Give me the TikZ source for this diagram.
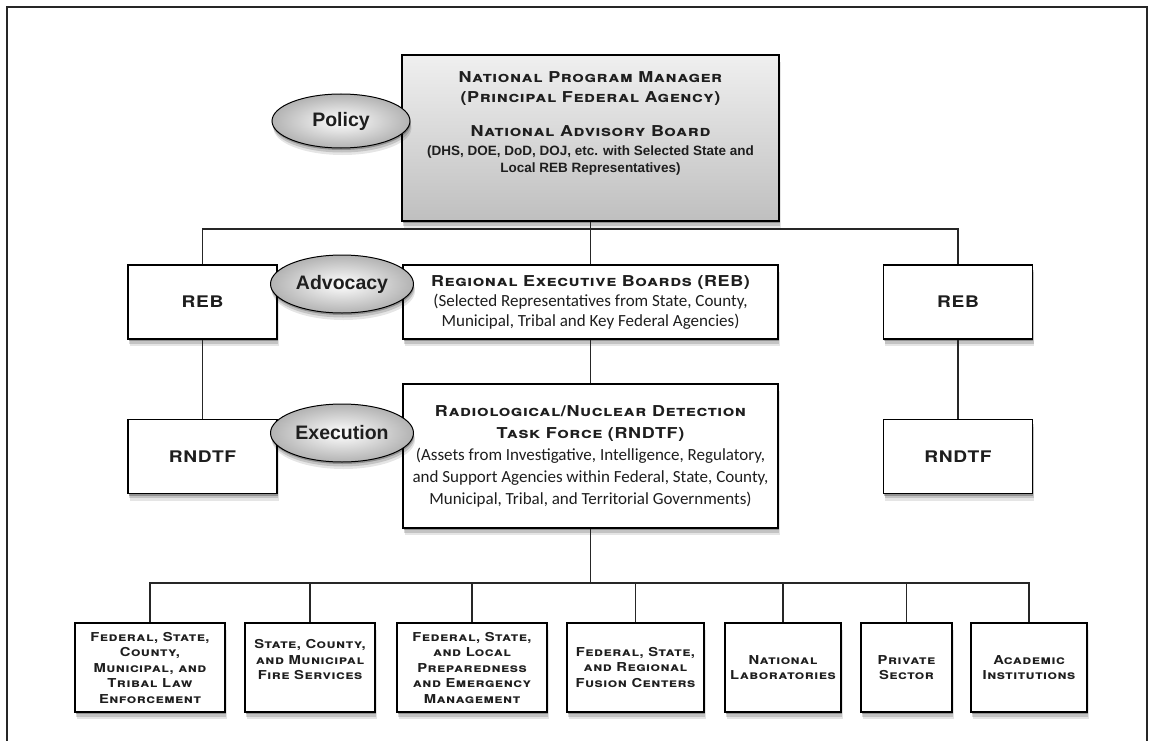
\documentclass[tikz,border=0pt]{standalone}
\usepackage{fontspec}
\setmainfont{Liberation Sans}
\newfontfamily\copperfont{TeX Gyre Heros}[FakeStretch=1.2,LetterSpace=4]
\newfontfamily\bodyfont{Carlito}
\newcommand{\capsline}[1]{{\copperfont\bfseries\scshape #1}}
\newcommand{\bodyline}[1]{{\bodyfont\fontsize{17}{20}\selectfont #1}}
\newcommand{\boldline}[1]{{\bfseries\fontsize{13.5}{15}\selectfont #1}}
\usetikzlibrary{shapes.geometric,shadows}
\definecolor{ink}{HTML}{1E1E1E}

\begin{document}
\begin{tikzpicture}[x=1pt,y=-1pt,
  soft shadow/.style={
    general shadow={shadow xshift=1.5pt,shadow yshift=-7pt,fill=black,opacity=.10},
    general shadow={shadow xshift=1pt,shadow yshift=-4.5pt,fill=black,opacity=.15},
    general shadow={shadow xshift=.5pt,shadow yshift=-2pt,fill=black,opacity=.25}},
  box/.style={draw=black, line width=1.5pt, fill=white, soft shadow, inner sep=0pt, align=center, text=ink},
  oval/.style={ellipse, draw=black, line width=1pt, inner sep=0pt, soft shadow, inner color=white, outer color=black!30, text=ink, font=\bfseries\fontsize{19.5}{22}\selectfont},
  link/.style={draw=black!85, line width=1.2pt},
  unit/.style={box, minimum width=149pt, minimum height=74pt, font=\copperfont\bfseries\fontsize{16}{18}\selectfont},
  branch/.style={box, minimum height=89pt, font=\copperfont\bfseries\scshape\fontsize{12.3}{15.5}\selectfont}]
  \useasboundingbox (0,0) rectangle (1153,741);
  \draw[line width=2.6pt, black!85] (7,741) -- (7,7) -- (1147,7) -- (1147,741);

  % national level
  \node[box, line width=2pt, minimum width=377pt, minimum height=166pt, top color=black!6, bottom color=black!25, font=\fontsize{15}{20}\selectfont] (npm) at (590.5,138)
    {\capsline{National Program Manager}\\
     \capsline{(Principal Federal Agency)}\\[14pt]
     \capsline{National Advisory Board}\\[-1pt]
     \boldline{(DHS, DOE, DoD, DOJ, etc. with Selected State and}\\[-3pt]
     \boldline{Local REB Representatives)}\\[12pt]\mbox{}};

  % regional level
  \node[unit] (rebL) at (202.5,302) {REB};
  \node[box, minimum width=375pt, minimum height=74pt, font=\fontsize{15}{20}\selectfont] (regional) at (590.5,302)
    {\capsline{Regional Executive Boards (REB)}\\
     \bodyline{(Selected Representatives from State, County,}\\
     \bodyline{Municipal, Tribal and Key Federal Agencies)}};
  \node[unit] (rebR) at (958,302) {REB};

  % task force level
  \node[unit] (rndtfL) at (202.5,456.5) {RNDTF};
  \node[box, minimum width=375pt, minimum height=144pt, font=\fontsize{15}{22}\selectfont] (taskforce) at (590.5,456)
    {\capsline{Radiological/Nuclear Detection}\\
     \capsline{Task Force (RNDTF)}\\
     \bodyline{(Assets from Investigative, Intelligence, Regulatory,}\\
     \bodyline{and Support Agencies within Federal, State, County,}\\
     \bodyline{Municipal, Tribal, and Territorial Governments)}};
  \node[unit] (rndtfR) at (958,456.5) {RNDTF};

  % ovals
  \node[oval, minimum width=138pt, minimum height=54pt] (policy) at (341,121) {Policy};
  \node[oval, minimum width=143pt, minimum height=58pt] (advocacy) at (342,284) {Advocacy};
  \node[oval, minimum width=143pt, minimum height=58pt] (execution) at (342,433) {Execution};

  % partners
  \node[branch, minimum width=150pt] (law) at (150,667.5) {Federal, State,\\County,\\Municipal, and\\Tribal Law\\Enforcement};
  \node[branch, minimum width=130pt] (fire) at (310,667.5) {State, County,\\and Municipal\\Fire Services\\\mbox{}};
  \node[branch, minimum width=150pt] (prep) at (472,667.5) {Federal, State,\\and Local\\Preparedness\\and Emergency\\Management};
  \node[branch, minimum width=137pt] (fusion) at (635.5,667.5) {Federal, State,\\and Regional\\Fusion Centers};
  \node[branch, minimum width=116pt] (labs) at (783,667.5) {National\\Laboratories};
  \node[branch, minimum width=91pt] (priv) at (906.5,667.5) {Private\\Sector};
  \node[branch, minimum width=116pt] (acad) at (1029,667.5) {Academic\\Institutions};

  % connectors
  \coordinate (upper bus) at (590.5,229);
  \coordinate (lower bus) at (590.5,583);
  \draw[link] (npm) -- (upper bus);
  \draw[link] (rebL) |- (upper bus) -| (rebR);
  \draw[link] (upper bus) -- (regional);
  \draw[link] (rebL) -- (rndtfL);
  \draw[link] (regional) -- (taskforce);
  \draw[link] (rebR) -- (rndtfR);
  \draw[link] (taskforce) -- (lower bus);
  \draw[link] (law) |- (lower bus) -| (acad);
  \draw[link] (fire) -- (fire |- lower bus);
  \draw[link] (prep) -- (prep |- lower bus);
  \draw[link] (fusion) -- (fusion |- lower bus);
  \draw[link] (labs) -- (labs |- lower bus);
  \draw[link] (priv) -- (priv |- lower bus);
\end{tikzpicture}
\end{document}
